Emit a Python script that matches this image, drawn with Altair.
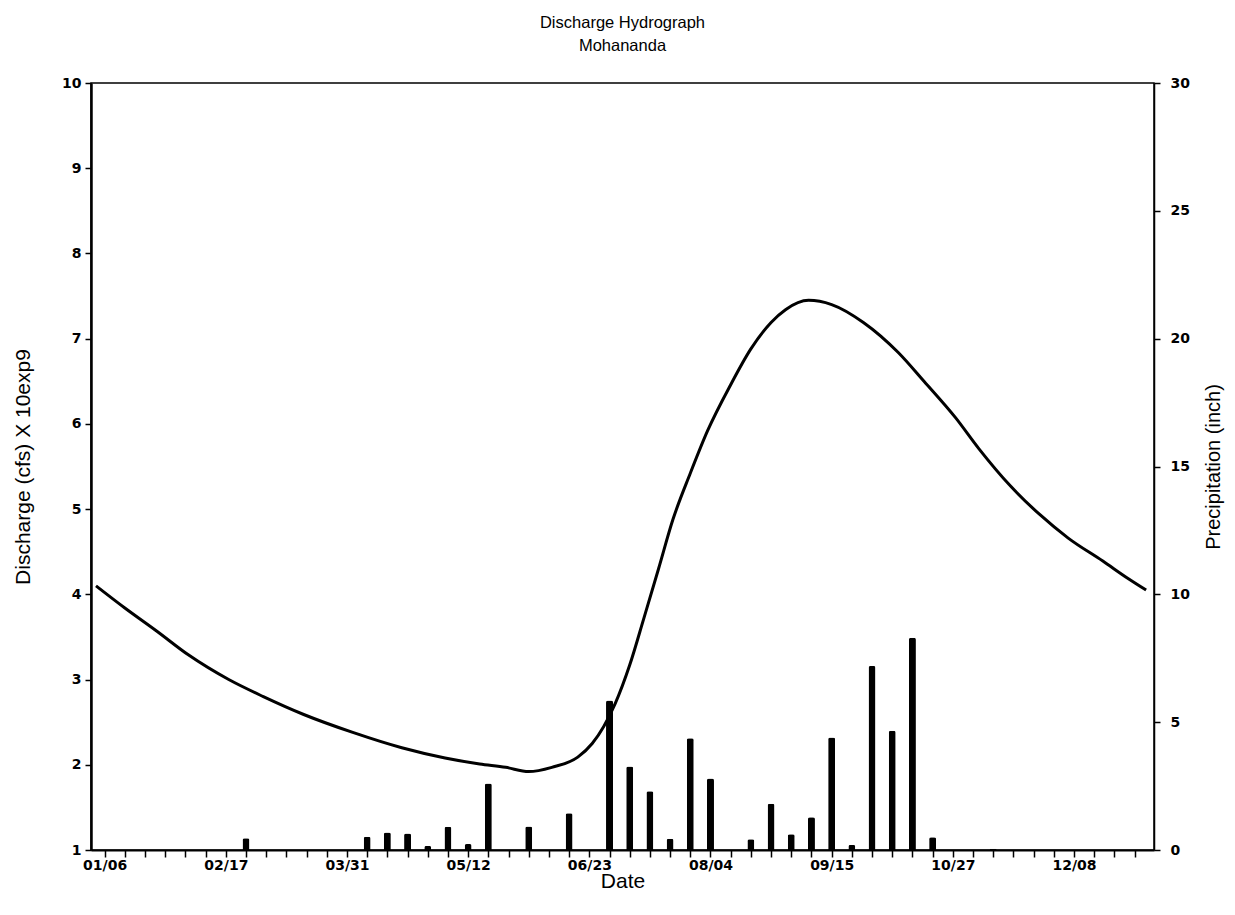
import altair as alt
import pandas as pd

# ---- text ----
title_lines = ["Discharge Hydrograph", "Mohananda"]
x_title = "Date"
y_left_title = "Discharge (cfs) X 10exp9"
y_right_title = "Precipitation (inch)"

# ---- axis settings ----
x_start = "2001-01-03"
x_end = "2002-01-03"
first_tick = "2001-01-06"
n_ticks = 52
tick_labels = ["01/06", "02/17", "03/31", "05/12", "06/23", "08/04", "09/15", "10/27", "12/08"]
left_ticks = [1, 2, 3, 4, 5, 6, 7, 8, 9, 10]
right_ticks = [0, 5, 10, 15, 20, 25, 30]

# ---- discharge curve (x 10^9 cfs) ----
flow_dates = [
    "2001-01-03", "2001-01-13", "2001-01-24", "2001-02-04", "2001-02-18",
    "2001-03-02", "2001-03-16", "2001-04-02", "2001-04-19", "2001-05-04",
    "2001-05-16", "2001-05-25", "2001-06-02", "2001-06-10", "2001-06-19",
    "2001-06-24", "2001-06-28", "2001-07-02", "2001-07-07", "2001-07-12",
    "2001-07-17", "2001-07-22", "2001-07-28", "2001-08-03", "2001-08-11",
    "2001-08-18", "2001-08-25", "2001-08-30", "2001-09-07", "2001-09-15",
    "2001-09-26", "2001-10-08", "2001-10-17", "2001-10-28", "2001-11-05",
    "2001-11-16", "2001-11-26", "2001-12-06", "2001-12-18", "2001-12-27",
    "2002-01-02",
]
flow_values = [
    4.10, 3.84, 3.57, 3.29, 3.00,
    2.80, 2.59, 2.38, 2.20, 2.08,
    2.01, 1.97, 1.92, 1.97, 2.09,
    2.25, 2.45, 2.72, 3.17, 3.73,
    4.30, 4.88, 5.42, 5.92, 6.46,
    6.88, 7.19, 7.34, 7.45, 7.40,
    7.19, 6.84, 6.50, 6.07, 5.71,
    5.27, 4.94, 4.66, 4.39, 4.18,
    4.05,
]

# ---- weekly precipitation (inch) ----
rain_dates = [
    "2001-02-24", "2001-04-07", "2001-04-14", "2001-04-21", "2001-04-28",
    "2001-05-05", "2001-05-12", "2001-05-19", "2001-06-02", "2001-06-16",
    "2001-06-30", "2001-07-07", "2001-07-14", "2001-07-21", "2001-07-28",
    "2001-08-04", "2001-08-18", "2001-08-25", "2001-09-01", "2001-09-08",
    "2001-09-15", "2001-09-22", "2001-09-29", "2001-10-06", "2001-10-13",
    "2001-10-20", "2001-11-10",
]
rain_values = [
    0.46, 0.52, 0.68, 0.65, 0.16,
    0.91, 0.23, 2.60, 0.92, 1.44,
    5.85, 3.27, 2.30, 0.44, 4.37,
    2.80, 0.42, 1.81, 0.62, 1.28,
    4.40, 0.20, 7.20, 4.66, 8.30,
    0.50, 0.05,
]

flow_df = pd.DataFrame({"date": flow_dates, "flow": flow_values})
rain_df = pd.DataFrame({"date": rain_dates, "rain": rain_values})


def ms(s):
    return int(pd.Timestamp(s).value // 10**6)


tick_values = [int(t.value // 10**6) for t in pd.date_range(first_tick, periods=n_ticks, freq="7D")]
label_list = ",".join("'%s'" % t for t in tick_labels)
label_expr = (
    "indexof([" + label_list + "], utcFormat(datum.value, '%m/%d')) >= 0 ? "
    "utcFormat(datum.value, '%m/%d') : ''"
)

FONT = "Liberation Sans"
TICK_FONT = "DejaVu Sans"

x_scale = alt.Scale(type="utc", domain=[ms(x_start), ms(x_end)])
x_axis = alt.Axis(
    title=x_title,
    values=tick_values,
    labelExpr=label_expr,
    labelOverlap=False,
    tickSize=7,
    tickWidth=1.5,
    domainWidth=2,
    labelPadding=1,
    titleY=37,
    titleBaseline="alphabetic",
    labelFont=TICK_FONT,
    labelFontSize=14,
    labelFontWeight="bold",
    titleFontSize=21,
    titleFontWeight="normal",
)

bars = alt.Chart(rain_df).mark_bar(
    size=7, color="black", cornerRadiusTopLeft=2, cornerRadiusTopRight=2
).encode(
    x=alt.X("date:T", scale=x_scale, axis=x_axis),
    y=alt.Y(
        "rain:Q",
        scale=alt.Scale(domain=[0, 30], nice=False, zero=True),
        axis=alt.Axis(
            orient="right",
            title=y_right_title,
            values=right_ticks,
            tickSize=6,
            tickWidth=1.5,
            domainWidth=1.5,
            labelPadding=10,
            titlePadding=34,
            titleAngle=270,
            labelFont=TICK_FONT,
            labelFontSize=14,
            labelFontWeight="bold",
            titleFontSize=20,
            titleFontWeight="normal",
        ),
    ),
)

line = alt.Chart(flow_df).mark_line(
    color="black", strokeWidth=3, interpolate="monotone"
).encode(
    x=alt.X("date:T", scale=x_scale, axis=x_axis),
    y=alt.Y(
        "flow:Q",
        scale=alt.Scale(domain=[1, 10], nice=False, zero=False),
        axis=alt.Axis(
            orient="left",
            title=y_left_title,
            values=left_ticks,
            tickSize=6,
            tickWidth=1.5,
            domainWidth=2.5,
            labelPadding=4,
            titlePadding=28,
            labelFont=TICK_FONT,
            labelFontSize=14,
            labelFontWeight="bold",
            titleFontSize=21,
            titleFontWeight="normal",
        ),
    ),
)

chart = (
    alt.layer(bars, line)
    .resolve_scale(y="independent")
    .properties(
        width=1063,
        height=767,
        autosize=alt.AutoSizeParams(type="none"),
        padding={"left": 83, "top": 75, "right": 72, "bottom": 45},
        title=alt.TitleParams(
            text=title_lines,
            fontSize=16.5,
            fontWeight="normal",
            font=FONT,
            anchor="middle",
            offset=22,
            lineHeight=23,
            color="black",
        ),
    )
    .configure(font=FONT)
    .configure_axis(
        grid=False,
        domainColor="black",
        tickColor="black",
        labelColor="black",
        titleColor="black",
        titleFont=FONT,
    )
    .configure_view(stroke="black", strokeWidth=1.5)
)

chart.save("out.html", embed_options={"renderer": "svg", "actions": False})
